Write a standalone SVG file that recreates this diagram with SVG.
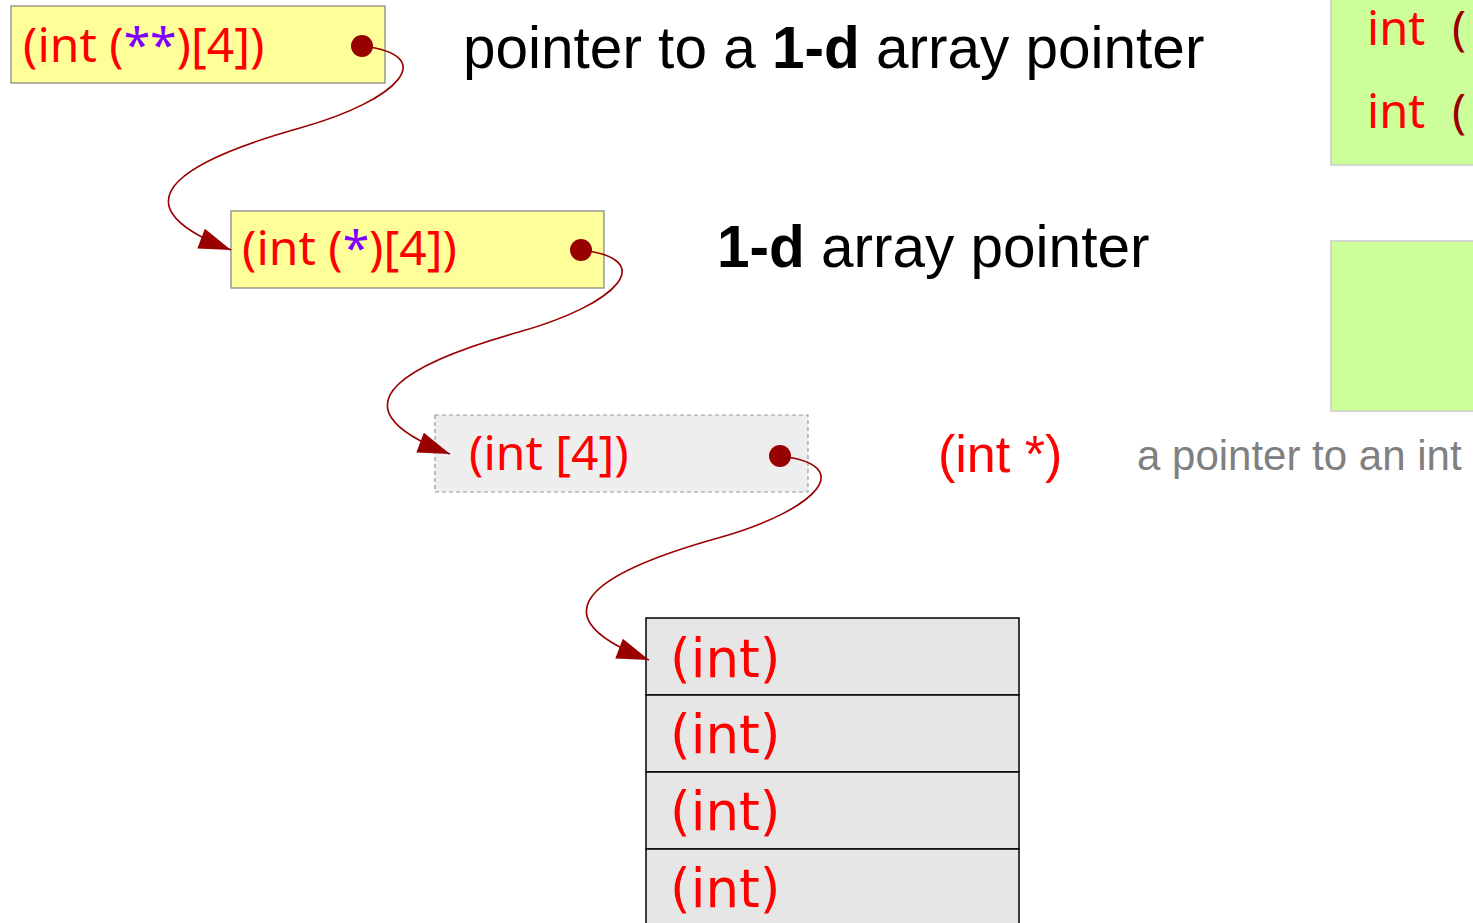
<svg xmlns="http://www.w3.org/2000/svg" width="1473" height="923" viewBox="0 0 1473 923">
<style>
.ybox{fill:#ffff99;stroke:#808080;stroke-width:1.2}
.gbox{fill:#eeeeee;stroke:#999999;stroke-width:1.2;stroke-dasharray:4 3}
.cell{fill:#e6e6e6;stroke:#000000;stroke-width:1.5}
.green{fill:#ccff99;stroke:#cccccc;stroke-width:1.5}
.bt{font-family:"Noto Sans","Open Sans",sans-serif;font-size:48px;fill:#ff0000}
.ct{font-family:"DejaVu Sans",sans-serif;font-size:53px;fill:#ff0000}
.gt{font-family:"Noto Sans","Open Sans",sans-serif;font-size:47px}
.star{fill:#8000ff}
.head{font-family:"Liberation Sans",Arial,sans-serif;font-size:58.5px;fill:#000000}
.b{font-weight:bold}
.dot{fill:#990000}
.conn{fill:none;stroke:#990000;stroke-width:1.6}
</style>
<defs>
<marker id="arr" markerUnits="userSpaceOnUse" viewBox="-33 -12 34 24" refX="0" refY="0" markerWidth="34" markerHeight="24" orient="auto">
<path d="M0,0 L-32,-10.6 L-32,10.6 Z" fill="#990000"/>
</marker>
</defs>
<g id="green-box-1">
<rect class="green" x="1331" y="-10" width="160" height="175"/>
<text class="gt" x="1367" y="45" fill="#ff0000">int</text>
<text class="gt" x="1452" y="45" fill="#990000">(</text>
<text class="gt" x="1367" y="128" fill="#ff0000">int</text>
<text class="gt" x="1452" y="128" fill="#990000">(</text>
</g>
<g id="green-box-2">
<rect class="green" x="1331" y="241" width="160" height="170"/>
</g>
<g id="node-ptr2">
<rect class="ybox" x="11" y="6" width="374" height="77"/>
<text class="bt" x="23" y="62">(int (<tspan class="star">**</tspan>)[4])</text>
<circle class="dot" cx="362" cy="46" r="11"/>
</g>
<g id="label-ptr2">
<text class="head" x="463" y="68">pointer to a <tspan class="b">1-d</tspan> array pointer</text>
</g>
<g id="node-ptr1">
<rect class="ybox" x="231" y="211" width="373" height="77"/>
<text class="bt" x="242" y="265">(int (<tspan class="star">*</tspan>)[4])</text>
<circle class="dot" cx="581" cy="250" r="11"/>
</g>
<g id="label-ptr1">
<text class="head" x="717" y="267"><tspan class="b">1-d</tspan> array pointer</text>
</g>
<g id="node-arr">
<rect class="gbox" x="435" y="415" width="373" height="77"/>
<text class="bt" x="469" y="470">(int [4])</text>
<circle class="dot" cx="780" cy="456" r="11"/>
</g>
<g id="label-intptr">
<text x="938" y="472" font-family="Liberation Sans, Arial, sans-serif" font-size="52" fill="#ff0000">(int *)</text>
<text x="1137" y="470" font-family="Liberation Sans, Arial, sans-serif" font-size="42" fill="#808080">a pointer to an int</text>
</g>
<g id="node-ints">
<rect class="cell" x="646" y="618" width="373" height="77"/>
<rect class="cell" x="646" y="695" width="373" height="77"/>
<rect class="cell" x="646" y="772" width="373" height="77"/>
<rect class="cell" x="646" y="849" width="373" height="90"/>
<text class="ct" x="670" y="677">(int)</text>
<text class="ct" x="670" y="753">(int)</text>
<text class="ct" x="670" y="830">(int)</text>
<text class="ct" x="670" y="907">(int)</text>
</g>
<g id="connectors">
<path class="conn" d="M362,46 C440,55 400,100 300,128 C200,156 100,200 231,250" marker-end="url(#arr)"/>
<path class="conn" d="M581,250 C659,259 619,304 519,332 C419,360 319,404 450,454" marker-end="url(#arr)"/>
<path class="conn" d="M780,456 C858,465 818,510 718,538 C618,566 518,610 649,660" marker-end="url(#arr)"/>
</g>
</svg>
